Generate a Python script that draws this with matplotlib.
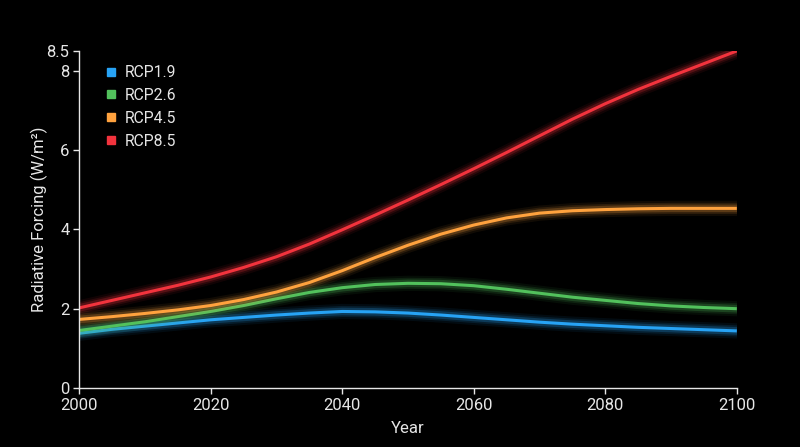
import matplotlib.pyplot as plt
from matplotlib.lines import Line2D

plt.rcParams['font.family'] = ['Roboto', 'DejaVu Sans']

years = [2000, 2005, 2010, 2015, 2020, 2025, 2030, 2035, 2040, 2045, 2050,
         2055, 2060, 2065, 2070, 2075, 2080, 2085, 2090, 2095, 2100]

rcp19 = [1.38, 1.48, 1.56, 1.64, 1.72, 1.78, 1.84, 1.89, 1.93, 1.92, 1.89,
         1.84, 1.78, 1.72, 1.66, 1.61, 1.57, 1.53, 1.50, 1.47, 1.44]
rcp26 = [1.45, 1.56, 1.67, 1.80, 1.93, 2.08, 2.25, 2.41, 2.53, 2.61, 2.64,
         2.63, 2.58, 2.49, 2.39, 2.29, 2.21, 2.13, 2.07, 2.03, 2.00]
rcp45 = [1.73, 1.80, 1.88, 1.97, 2.08, 2.23, 2.42, 2.66, 2.96, 3.29, 3.60,
         3.88, 4.11, 4.29, 4.41, 4.47, 4.50, 4.52, 4.53, 4.53, 4.53]
rcp85 = [2.02, 2.21, 2.40, 2.59, 2.80, 3.04, 3.31, 3.63, 3.99, 4.36, 4.74,
         5.13, 5.53, 5.94, 6.36, 6.78, 7.17, 7.53, 7.86, 8.18, 8.50]

series = [("RCP1.9", rcp19, "#27A3F5"),
          ("RCP2.6", rcp26, "#52C15C"),
          ("RCP4.5", rcp45, "#FFA23E"),
          ("RCP8.5", rcp85, "#F2333D")]

x_ticks = [2000, 2020, 2040, 2060, 2080, 2100]
y_ticks = [0, 2, 4, 6, 8, 8.5]

fg = "#E6E6E6"

fig = plt.figure(figsize=(8, 4.47), dpi=100, facecolor="black")
ax = fig.add_axes([0.099, 0.132, 0.822, 0.754])
ax.set_facecolor("black")

handles = []
for name, vals, col in series:
    # soft glow underneath the line
    for lw, a in [(11, 0.07), (8, 0.12), (5.5, 0.22)]:
        ax.plot(years, vals, color=col, lw=lw, alpha=a, solid_capstyle="round")
    ax.plot(years, vals, color=col, lw=2.2, solid_capstyle="butt")
    handles.append(Line2D([], [], ls="none", marker="s", markersize=6,
                          markerfacecolor=col, markeredgecolor=col, label=name))

ax.set_xlim(2000, 2100)
ax.set_ylim(0, 8.5)
ax.set_xticks(x_ticks)
ax.set_yticks(y_ticks)
ax.set_yticklabels(["0", "2", "4", "6", "8", "8.5"])

for s in ["top", "right"]:
    ax.spines[s].set_visible(False)
for s in ["left", "bottom"]:
    ax.spines[s].set_color(fg)
    ax.spines[s].set_linewidth(1)

ax.tick_params(colors=fg, labelsize=12, length=4, width=1, pad=3)
ax.set_xlabel("Year", color=fg, fontsize=12, labelpad=6)
ax.set_ylabel("Radiative Forcing (W/m²)", color=fg, fontsize=12)
ax.yaxis.set_label_coords(-0.048, 0.5)

leg = ax.legend(handles=handles, loc="upper left", bbox_to_anchor=(0.017, 1.0),
                frameon=False, fontsize=11.3, labelspacing=0.5,
                handlelength=0.8, handletextpad=0.5)
for t in leg.get_texts():
    t.set_color(fg)

fig.savefig("out.png", dpi=100, facecolor="black")
